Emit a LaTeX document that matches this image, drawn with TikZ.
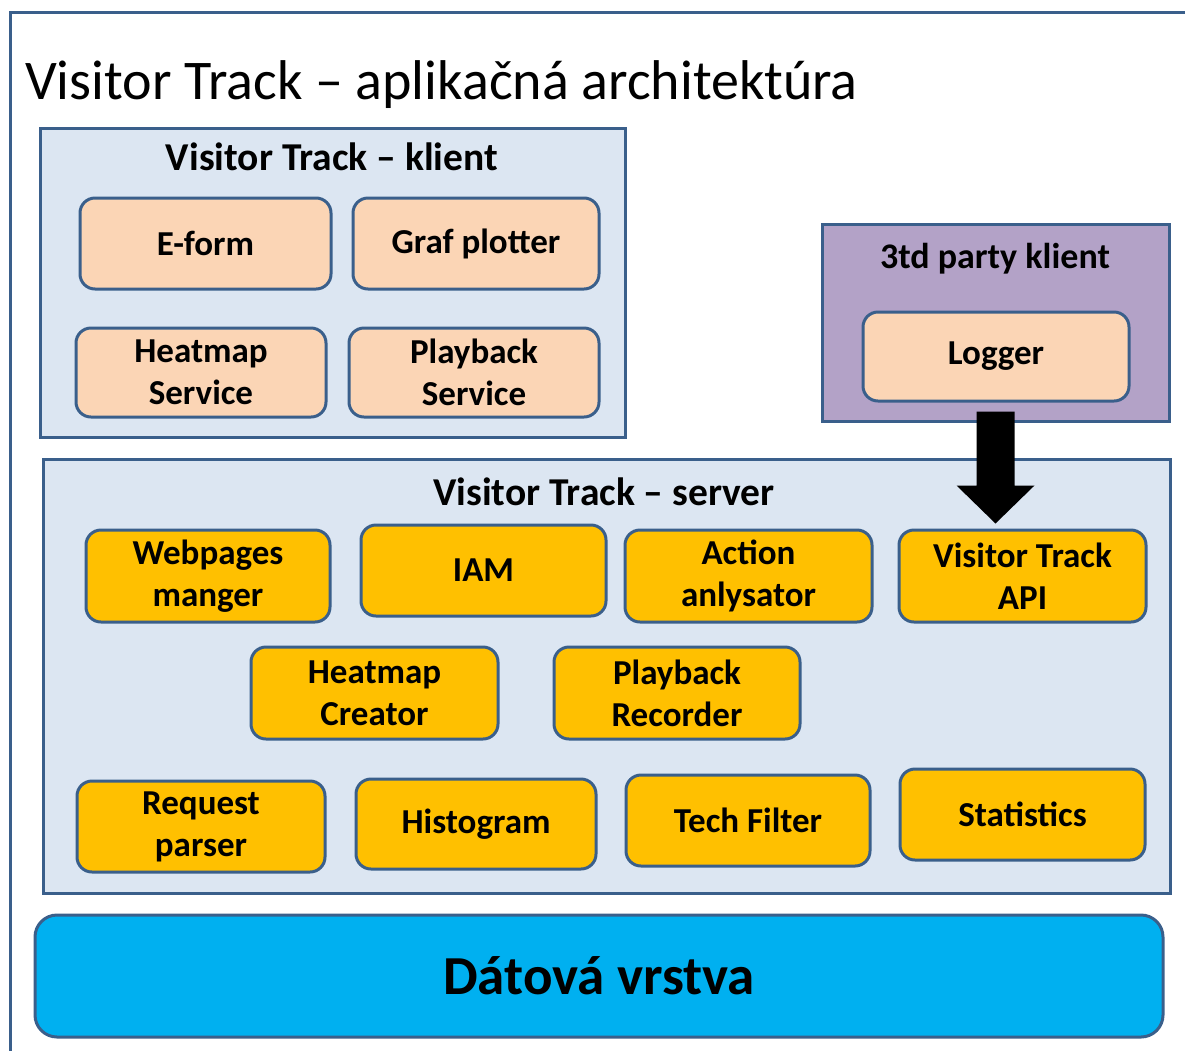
\documentclass[tikz,border=0pt]{standalone}
\usepackage{fontspec}
\setmainfont{Carlito}
\usetikzlibrary{calc}

\definecolor{edgeblue}{HTML}{3A5F8B}
\definecolor{panelblue}{HTML}{DCE6F2}
\definecolor{peach}{HTML}{FBD5B5}
\definecolor{lilac}{HTML}{B3A2C7}
\definecolor{amber}{HTML}{FFC000}
\definecolor{cyanlayer}{HTML}{00B0F0}

\tikzset{
  panel/.style={draw=edgeblue, line width=3pt, inner sep=0pt},
  boxtext/.style={font=\bfseries\fontsize{35}{42}\selectfont, align=center, text=black},
  module/.style={boxtext, draw=edgeblue, line width=3pt, rounded corners=15pt, inner sep=0pt},
  clientmod/.style={module, fill=peach},
  servermod/.style={module, fill=amber},
  paneltitle/.style={font=\bfseries\fontsize{39.5}{44}\selectfont, text=black},
}

\begin{document}
\begin{tikzpicture}[x=1pt, y=-1pt]
\useasboundingbox (0,0) rectangle (1185,1050);
\clip (0,0) rectangle (1185,1050);

% outer slide frame
\draw[edgeblue, line width=3pt] (10,12) rectangle (1220,1090);

% heading
\node[anchor=base west, inner sep=0pt, font=\fontsize{56}{60}\selectfont] (heading)
  at (25,99) {Visitor Track – aplikačná architektúra};

% client panel
\node[panel, fill=panelblue, minimum width=585, minimum height=309] (client) at (332.5,282.5) {};
\node[paneltitle] (clienttitle) at (332,157) {Visitor Track – klient};
\node[clientmod, minimum width=251, minimum height=91] (eform) at (205.5,243.5) {E-form};
\node[clientmod, minimum width=246, minimum height=91] (graf) at (476,243.5) {Graf plotter};
\node[clientmod, minimum width=250, minimum height=89] (heatsvc) at (201,372.5) {Heatmap\\Service};
\node[clientmod, minimum width=250, minimum height=89] (playsvc) at (474,372.5) {Playback\\Service};

% third party panel
\node[panel, fill=lilac, minimum width=347, minimum height=197] (third) at (995.5,322.5) {};
\node[paneltitle, font=\bfseries\fontsize{36}{40}\selectfont] (thirdtitle) at (995,259) {3td party klient};
\node[clientmod, minimum width=266, minimum height=89] (logger) at (996,356.5) {Logger};

% server panel
\node[panel, fill=panelblue, minimum width=1127, minimum height=434] (server) at (606.5,676) {};
\node[paneltitle] (servertitle) at (604,492) {Visitor Track – server};
\node[servermod, minimum width=244, minimum height=92] (webp) at (208,576) {Webpages\\manger};
\node[servermod, minimum width=245, minimum height=91] (iam) at (483.5,570.5) {IAM};
\node[servermod, minimum width=247, minimum height=92] (action) at (748.5,576) {Action\\anlysator};
\node[servermod, minimum width=247, minimum height=92] (api) at (1022.5,576) {Visitor Track\\API};
\node[servermod, minimum width=247, minimum height=92] (hcreator) at (374.5,693) {Heatmap\\Creator};
\node[servermod, minimum width=246, minimum height=92] (precorder) at (677,693) {Playback\\Recorder};
\node[servermod, minimum width=248, minimum height=91] (reqparser) at (201,826.5) {Request\\parser};
\node[servermod, minimum width=240, minimum height=90] (histogram) at (476,824) {Histogram};
\node[servermod, minimum width=244, minimum height=91] (techfilter) at (748,820.5) {Tech Filter};
\node[servermod, minimum width=245, minimum height=91] (statistics) at (1022.5,814.5) {Statistics};

% data layer
\node[draw=edgeblue, line width=3pt, fill=cyanlayer, rounded corners=22pt,
      minimum width=1128, minimum height=122, inner sep=0pt,
      font=\bfseries\fontsize{55}{60}\selectfont] (data) at (599,976) {Dátová vrstva};

% block arrow from the third party client into the API
\coordinate (arrtop) at ($(third.south)+(0,-11)$);
\coordinate (arrtip) at ($(arrtop |- api.north)+(0,-5)$);
\fill[black] ($(arrtop)+(-19,0)$) -- ($(arrtop)+(19,0)$) -- ($(arrtip)+(19,-38)$)
  -- ($(arrtip)+(39,-38)$) -- (arrtip) -- ($(arrtip)+(-39,-38)$)
  -- ($(arrtip)+(-19,-38)$) -- cycle;
\end{tikzpicture}
\end{document}
